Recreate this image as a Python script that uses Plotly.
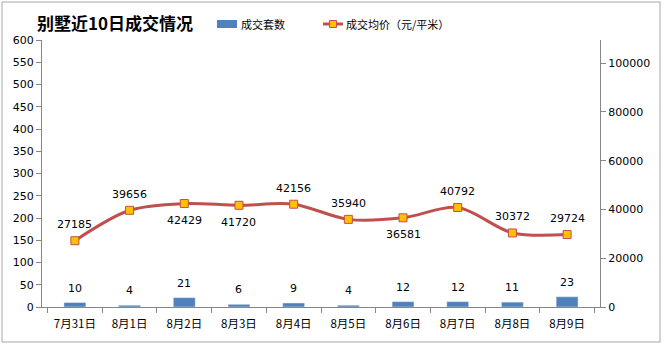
import plotly.graph_objects as go

categories = ["7月31日", "8月1日", "8月2日", "8月3日", "8月4日", "8月5日", "8月6日", "8月7日", "8月8日", "8月9日"]
deals = [10, 4, 21, 6, 9, 4, 12, 12, 11, 23]
avg_price = [27185, 39656, 42429, 41720, 42156, 35940, 36581, 40792, 30372, 29724]
price_label_side = ["above", "above", "below", "below", "above",
                    "above", "below", "above", "above", "above"]
left_ticks = list(range(0, 601, 50))
right_ticks = list(range(0, 100001, 20000))

BLUE = "#4F81BD"
RED = "#C0504D"
GOLD = "#FFC000"
AXIS = "#868686"
NUMFONT = "DejaVu Sans"
CJK = "Noto Sans CJK SC"

# plot area in pixels: x 42..600, y 40..307
L, R, T, B = 42, 600, 40, 307
W, H = 664, 346

def px(x):
    return (x - L) / (R - L)

def py(y):
    return (B - y) / (B - T)

fig = go.Figure()
fig.add_trace(go.Bar(
    x=categories, y=deals, name="成交套数", marker_color=BLUE, width=0.4,
    yaxis="y", showlegend=False,
))
fig.add_trace(go.Scatter(
    x=categories, y=avg_price, name="成交均价（元/平米）", yaxis="y2",
    mode="lines+markers",
    line=dict(color=RED, width=3, shape="spline", smoothing=0.9),
    marker=dict(symbol="square", size=8, color=GOLD, line=dict(color=RED, width=1)),
    showlegend=False, cliponaxis=False,
))

annotations = []
for c, v in zip(categories, deals):
    annotations.append(dict(x=c, y=v, xref="x", yref="y", text=str(v), showarrow=False,
                            yanchor="bottom", yshift=6,
                            font=dict(family=NUMFONT, size=11, color="#000000")))
for c, v, side in zip(categories, avg_price, price_label_side):
    annotations.append(dict(x=c, y=v, xref="x", yref="y2", text=str(v), showarrow=False,
                            yanchor="middle", yshift=16 if side == "above" else -17,
                            font=dict(family=NUMFONT, size=11, color="#000000")))

# title
annotations.append(dict(x=px(35), y=py(22), xref="paper", yref="paper", text="<b>别墅近10日成交情况</b>",
                        showarrow=False, xanchor="left", yanchor="middle",
                        font=dict(family=CJK, size=17, color="#000000")))
# legend texts
annotations.append(dict(x=px(239), y=py(24), xref="paper", yref="paper", text="成交套数",
                        showarrow=False, xanchor="left", yanchor="middle",
                        font=dict(family=CJK, size=11, color="#000000")))
annotations.append(dict(x=px(344), y=py(24), xref="paper", yref="paper", text="成交均价（元/平米）",
                        showarrow=False, xanchor="left", yanchor="middle",
                        font=dict(family=CJK, size=11, color="#000000")))

shapes = [
    # chart border
    dict(type="rect", xref="paper", yref="paper", x0=px(2), x1=px(660), y0=py(2), y1=py(342),
         line=dict(color="#A6A6A6", width=1), fillcolor="rgba(0,0,0,0)", layer="below"),
    # legend bar icon
    dict(type="rect", xref="paper", yref="paper", x0=px(217), x1=px(237), y0=py(28), y1=py(20),
         line=dict(width=0), fillcolor=BLUE),
    # legend line icon
    dict(type="line", xref="paper", yref="paper", x0=px(323), x1=px(343), y0=py(24), y1=py(24),
         line=dict(color=RED, width=3)),
    dict(type="rect", xref="paper", yref="paper", x0=px(329.5), x1=px(336.5), y0=py(27.5), y1=py(20.5),
         line=dict(color=RED, width=1), fillcolor=GOLD),
]

fig.update_layout(
    width=W, height=H,
    margin=dict(l=L, r=W - R, t=T, b=H - B),
    paper_bgcolor="white", plot_bgcolor="white",
    showlegend=False,
    xaxis=dict(
        showline=True, linecolor=AXIS, linewidth=1, ticks="outside", tickson="boundaries",
        ticklen=5, tickcolor=AXIS, showgrid=False, zeroline=False, ticklabelstandoff=6,
        tickfont=dict(family=CJK, size=11.5, color="#000000"),
    ),
    yaxis=dict(
        range=[0, 600], tickvals=left_ticks, showline=True, linecolor=AXIS, linewidth=1,
        ticks="outside", ticklen=5, tickcolor=AXIS, showgrid=False, zeroline=False,
        tickfont=dict(family=NUMFONT, size=11, color="#000000"),
    ),
    yaxis2=dict(
        range=[0, 109500], tickvals=right_ticks, ticktext=[str(v) for v in right_ticks],
        overlaying="y", side="right",
        showline=True, linecolor=AXIS, linewidth=1, ticks="outside", ticklen=5, tickcolor=AXIS,
        showgrid=False, zeroline=False,
        tickfont=dict(family=NUMFONT, size=11, color="#000000"),
    ),
    annotations=annotations,
    shapes=shapes,
)

fig.write_html("out.html")
